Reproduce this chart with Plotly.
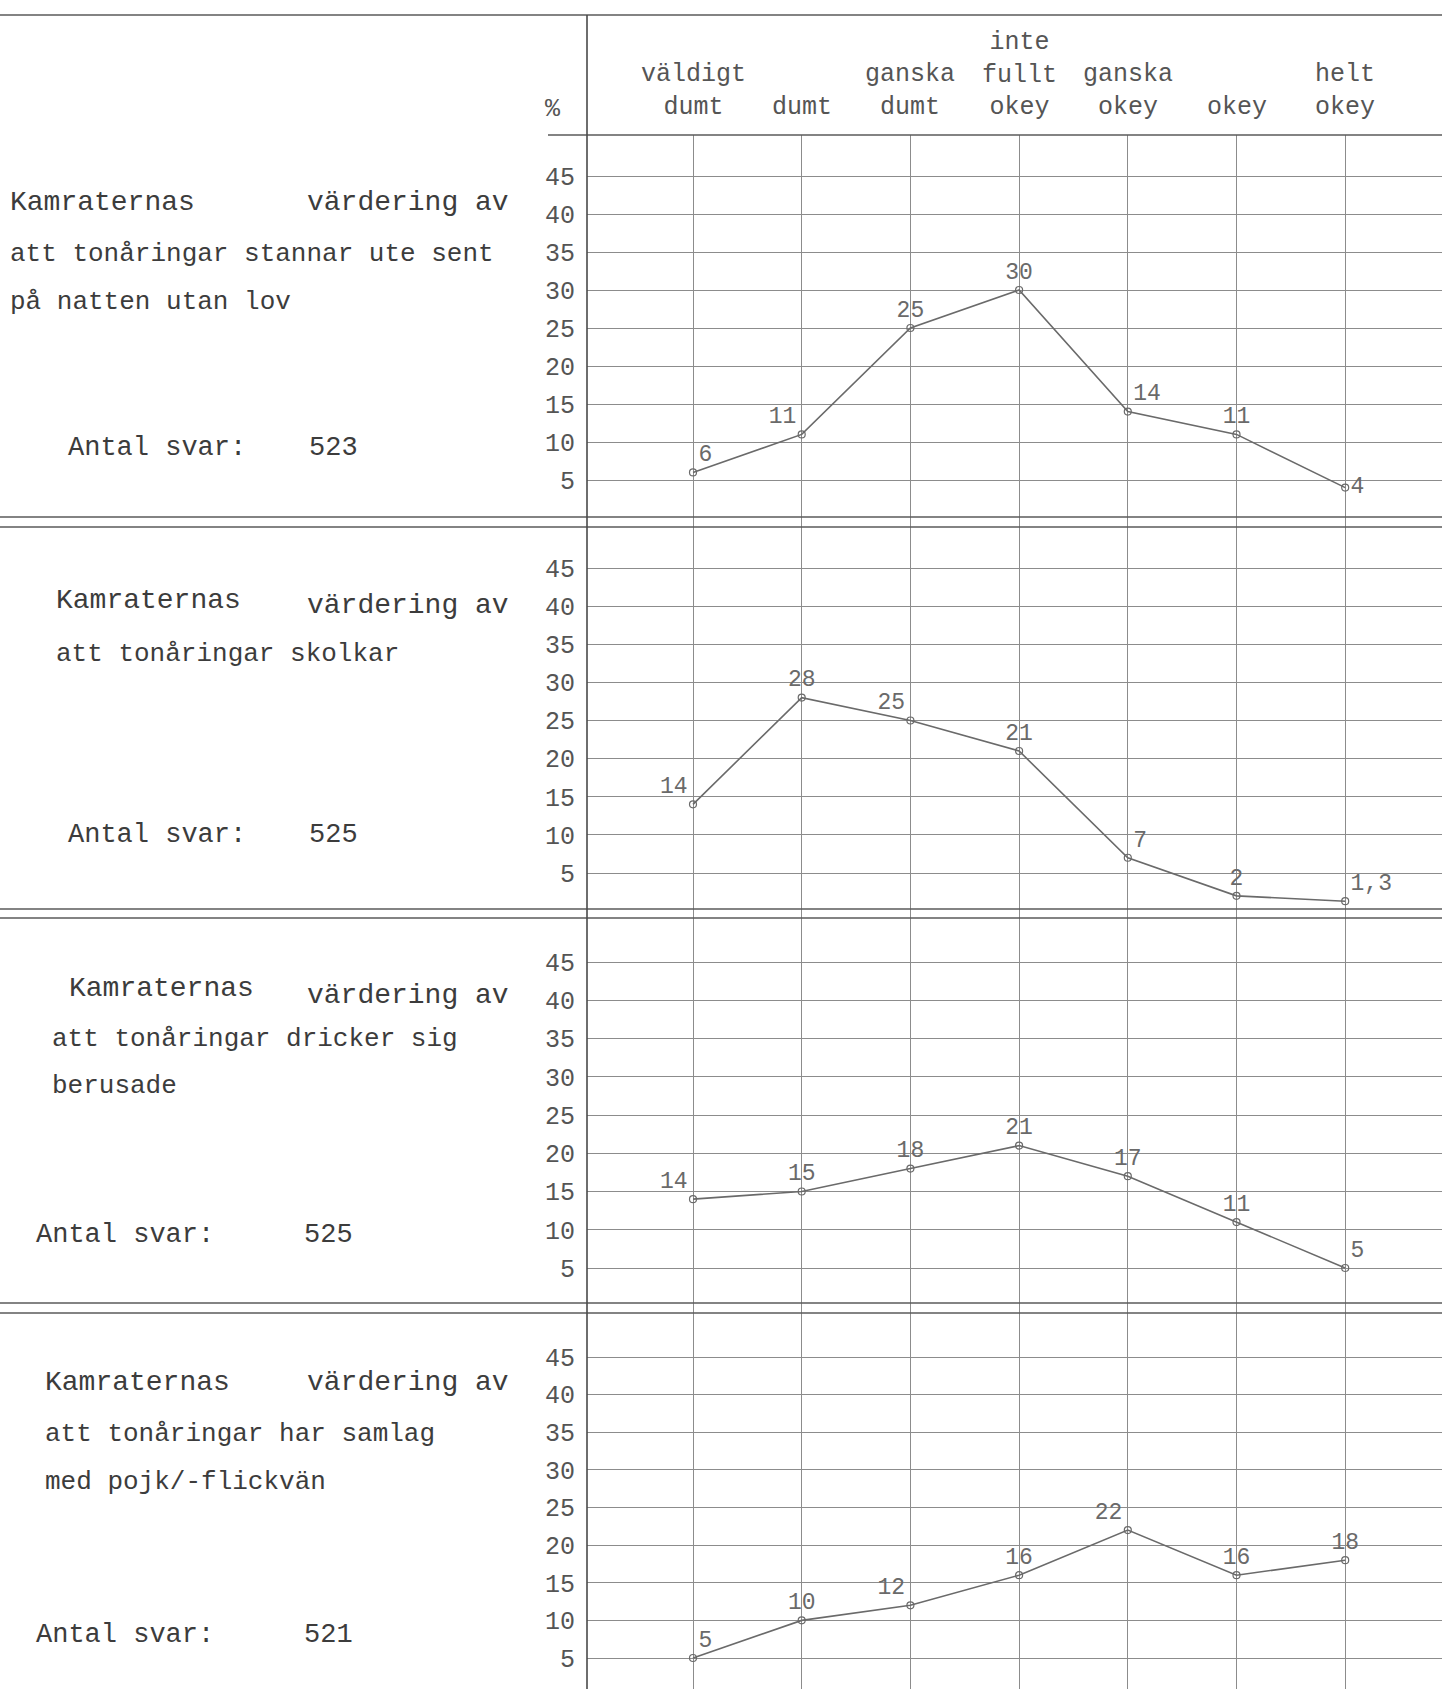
import plotly.graph_objects as go

# svarsalternativ (x-axeln)
kategorier = ['väldigt dumt', 'dumt', 'ganska dumt', 'inte fullt okey',
              'ganska okey', 'okey', 'helt okey']

# procent per panel
stannar_ute = [6, 11, 25, 30, 14, 11, 4]
skolkar = [14, 28, 25, 21, 7, 2, 1.3]
berusade = [14, 15, 18, 21, 17, 11, 5]
samlag = [5, 10, 12, 16, 22, 16, 18]

antal_svar = [523, 525, 525, 521]

rubrik_rad1 = ['Kamraternas', 'Kamraternas', 'Kamraternas', 'Kamraternas']
rubrik_rad1b = ['värdering av', 'värdering av', 'värdering av', 'värdering av']
rubrik_rad2 = ['att tonåringar stannar ute sent', 'att tonåringar skolkar',
               'att tonåringar dricker sig', 'att tonåringar har samlag']
rubrik_rad3 = ['på natten utan lov', '', 'berusade', 'med pojk/-flickvän']

y_ticks = [5, 10, 15, 20, 25, 30, 35, 40, 45]

W, H = 1442, 1689
FONT = 'Liberation Mono'
INK = '#3c3c3c'
PENCIL = '#6a6a6a'
GRID = '#8c8c8c'

# pixel layout of the scanned sheet: (px for 45, px for 5, top, bottom)
paneler = [
    (176, 480, 135, 522),
    (568, 873, 522, 915),
    (962, 1268, 915, 1309),
    (1357, 1658, 1309, 1689),
]
textlagen = [
    ['top right', 'top left', 'top center', 'top center', 'top right', 'top center', 'middle right'],
    ['top left', 'top center', 'top left', 'top center', 'top right', 'top center', 'top right'],
    ['top left', 'top center', 'top center', 'top center', 'top center', 'top center', 'top right'],
    ['top right', 'top center', 'top left', 'top center', 'top left', 'top center', 'top center'],
]
# left-hand text positions (x left, y centre) in px
vanster = [
    dict(k=(8, 202), v=(511, 202), r2=(8, 254), r3=(8, 302), a=(66, 448), n=(307, 448)),
    dict(k=(54, 600), v=(511, 605), r2=(54, 654), r3=(54, 700), a=(66, 835), n=(307, 835)),
    dict(k=(67, 988), v=(511, 995), r2=(50, 1039), r3=(50, 1086), a=(34, 1235), n=(302, 1235)),
    dict(k=(43, 1382), v=(511, 1382), r2=(43, 1434), r3=(43, 1482), a=(34, 1635), n=(302, 1635)),
]

serier = [stannar_ute, skolkar, berusade, samlag]

AX_PX = 587
COL0, COLSTEP = 693, 108.7
x_range = [(AX_PX - COL0) / COLSTEP, (W - COL0) / COLSTEP]
x_dom = [AX_PX / W, 1.0]


def px_y(p):
    return 1 - p / H


fig = go.Figure()
annotations = []

for i, vals in enumerate(serier):
    n = i + 1
    sx = '' if n == 1 else str(n)
    p45, p5, top, bot = paneler[i]
    ppu = (p5 - p45) / 40.0
    y_lo = 45 - (bot - p45) / ppu
    y_hi = 45 - (top - p45) / ppu

    fig.add_trace(go.Scatter(
        x=kategorier, y=vals,
        xaxis='x' + sx, yaxis='y' + sx,
        mode='lines+markers+text',
        text=[f'{v:g}'.replace('.', ',') for v in vals],
        textposition=textlagen[i],
        textfont=dict(family=FONT, size=23, color=PENCIL),
        line=dict(color=PENCIL, width=1.6),
        marker=dict(symbol='circle-open', size=7, color=PENCIL, line=dict(width=1.2)),
        showlegend=False,
        cliponaxis=False,
    ))

    fig.layout['xaxis' + sx] = dict(
        domain=x_dom, type='category', categoryorder='array',
        categoryarray=kategorier, range=x_range,
        showgrid=True, gridcolor=GRID, gridwidth=1.3,
        showticklabels=False, zeroline=False, showline=False,
        anchor='y' + sx, fixedrange=True,
    )
    fig.layout['yaxis' + sx] = dict(
        domain=[px_y(bot), px_y(top)], range=[y_lo, y_hi],
        tickvals=y_ticks, ticktext=[str(t) for t in y_ticks],
        ticks='outside', ticklen=6, tickcolor='rgba(0,0,0,0)',
        tickfont=dict(family=FONT, size=25, color='#555555'),
        showgrid=True, gridcolor=GRID, gridwidth=1.2,
        zeroline=False, showline=False, anchor='x' + sx, fixedrange=True,
    )

    # left-hand description
    t = vanster[i]
    rader = [
        (rubrik_rad1[i], t['k'], 'left', 28),
        (rubrik_rad1b[i], t['v'], 'right', 28),
        (rubrik_rad2[i], t['r2'], 'left', 26),
        (rubrik_rad3[i], t['r3'], 'left', 26),
        ('Antal svar:', t['a'], 'left', 27),
        (str(antal_svar[i]), t['n'], 'left', 27),
    ]
    for txt, (xp, yp), anc, fs in rader:
        if not txt:
            continue
        annotations.append(dict(
            text=txt, xref='paper', yref='paper', x=xp / W, y=px_y(yp),
            xanchor=anc, yanchor='middle', showarrow=False,
            font=dict(family=FONT, size=fs, color=INK),
        ))

# column headings
for k in kategorier:
    annotations.append(dict(
        text='<br>'.join(k.split()), xref='x', yref='paper', x=k, y=px_y(124),
        xanchor='center', yanchor='bottom', showarrow=False, align='center',
        font=dict(family=FONT, size=25, color='#555555'),
    ))
annotations.append(dict(
    text='%', xref='paper', yref='paper', x=553 / W, y=px_y(110),
    xanchor='center', yanchor='middle', showarrow=False,
    font=dict(family=FONT, size=25, color='#555555'),
))

# ruled lines of the sheet
shapes = []
for yp, x0 in [(15, 0), (135, 548 / W), (517, 0), (527, 0), (909, 0), (918, 0), (1303, 0), (1313, 0)]:
    shapes.append(dict(type='line', xref='paper', yref='paper', x0=x0, x1=1,
                       y0=px_y(yp), y1=px_y(yp), line=dict(color='#5a5a5a', width=1.4)))
shapes.append(dict(type='line', xref='paper', yref='paper', x0=AX_PX / W, x1=AX_PX / W,
                   y0=px_y(15), y1=0, line=dict(color='#4a4a4a', width=1.6)))

fig.update_layout(
    width=W, height=H,
    margin=dict(l=0, r=0, t=0, b=0),
    paper_bgcolor='white', plot_bgcolor='white',
    annotations=annotations, shapes=shapes,
)

fig.write_html('out.html', config={'displayModeBar': False},
               post_script="document.body.style.margin='0';document.body.style.overflow='hidden';")
